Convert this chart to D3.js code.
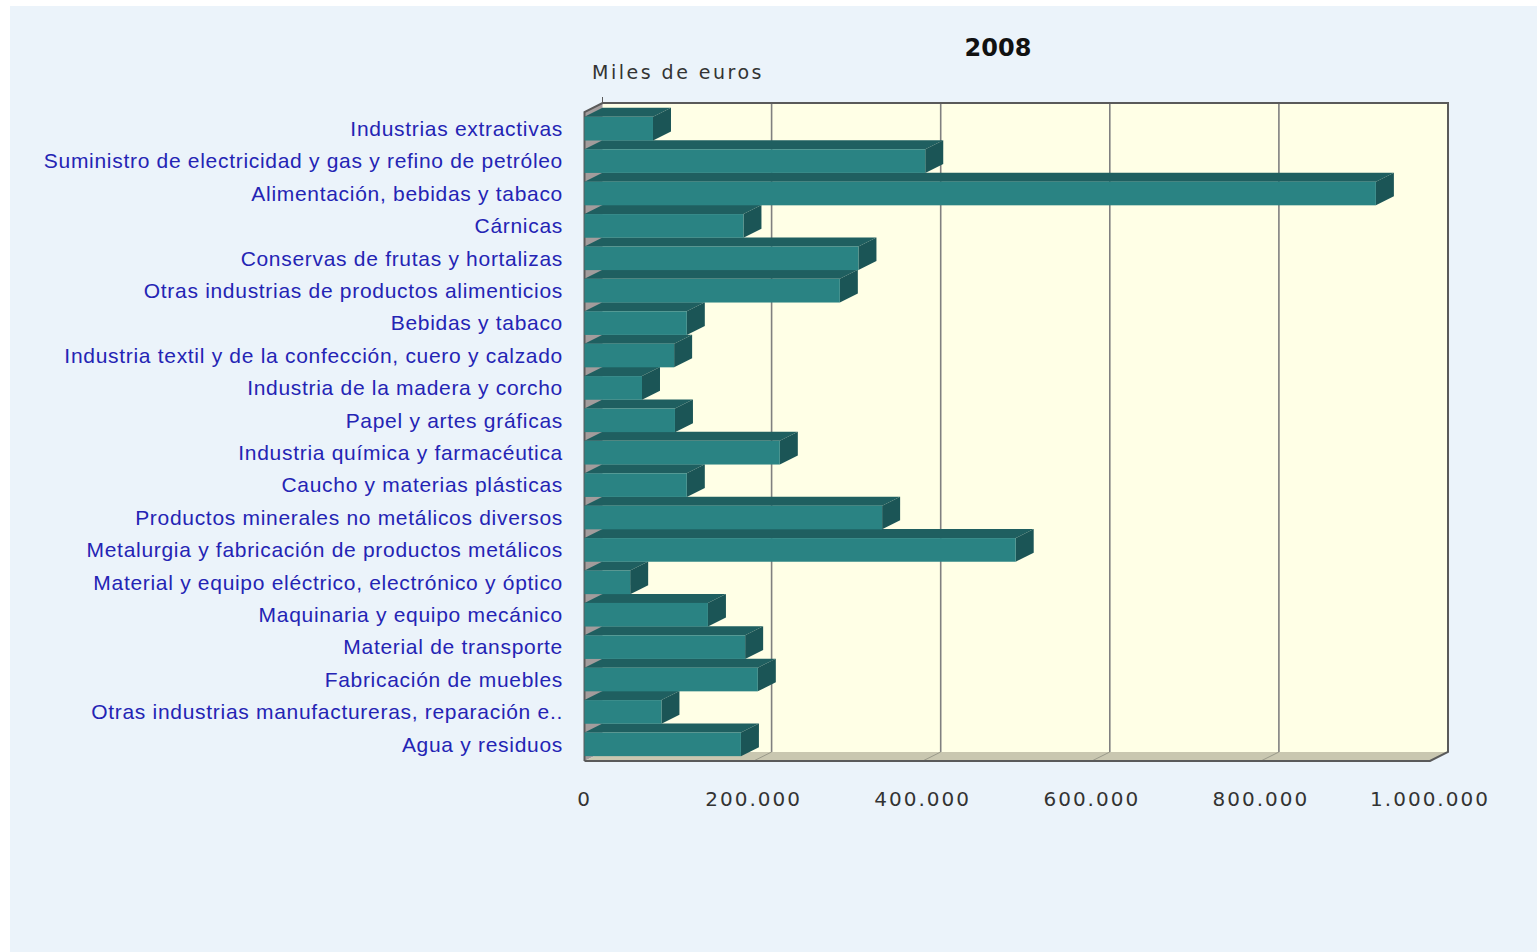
<!DOCTYPE html>
<html>
<head>
<meta charset="utf-8">
<script src="https://cdn.jsdelivr.net/npm/d3@7"></script>
<style>
  html, body { margin: 0; padding: 0; background: #ffffff; }
  svg { display: block; }
</style>
</head>
<body>
<div class="graph"></div>
<script>
// data (miles de euros)
const categories = [
  "Industrias extractivas",
  "Suministro de electricidad y gas y refino de petróleo",
  "Alimentación, bebidas y tabaco",
  "Cárnicas",
  "Conservas de frutas y hortalizas",
  "Otras industrias de productos alimenticios",
  "Bebidas y tabaco",
  "Industria textil y de la confección, cuero y calzado",
  "Industria de la madera y corcho",
  "Papel y artes gráficas",
  "Industria química y farmacéutica",
  "Caucho y materias plásticas",
  "Productos minerales no metálicos diversos",
  "Metalurgia y fabricación de productos metálicos",
  "Material y equipo eléctrico, electrónico y óptico",
  "Maquinaria y equipo mecánico",
  "Material de transporte",
  "Fabricación de muebles",
  "Otras industrias manufactureras, reparación e..",
  "Agua y residuos"
];
const values = [81000, 403000, 936000, 188000, 324000, 302000, 121000, 106000, 68000, 107000,
  231000, 121000, 352000, 510000, 54000, 146000, 190000, 205000, 91000, 185000];
const xTicks = [0, 200000, 400000, 600000, 800000, 1000000];
const title = "2008";
const unitLabel = "Miles de euros";

const W = 1537, H = 952;
const dx = 18, dy = 9; // 3d depth

const svg = d3.select(".graph").append("svg")
  .attr("width", W)
  .attr("height", H);

// panel
svg.append("rect")
  .attr("x", 10).attr("y", 6)
  .attr("width", W - 10).attr("height", H - 6)
  .attr("fill", "#ebf3fa");

const x = d3.scaleLinear()
  .domain([0, 1000000])
  .range([584.5, 1430]);

const y = d3.scaleBand()
  .domain(categories)
  .range([112, 761])
  .paddingInner(0.27)
  .paddingOuter(0.15);

const x0 = x(0), x1 = x(1000000);
const yTop = 112, yBot = 761;
const fmt = d3.format(",.0f");
const esNum = v => fmt(v).replace(/,/g, ".");

// back wall
svg.append("rect")
  .attr("x", x0 + dx).attr("y", yTop - dy)
  .attr("width", x1 - x0).attr("height", yBot - yTop)
  .attr("fill", "#ffffe6");

// left wall
svg.append("polygon")
  .attr("points", [[x0, yTop], [x0 + dx, yTop - dy], [x0 + dx, yBot - dy], [x0, yBot]].join(" "))
  .attr("fill", "#a39c9c");

// floor
svg.append("polygon")
  .attr("points", [[x0, yBot], [x0 + dx, yBot - dy], [x1 + dx, yBot - dy], [x1, yBot]].join(" "))
  .attr("fill", "#c9c7b0");

// grid lines on back wall and floor
const grid = svg.append("g");
grid.selectAll(".gl")
  .data(xTicks.slice(1, -1))
  .enter().append("line")
  .attr("x1", d => x(d) + dx).attr("x2", d => x(d) + dx)
  .attr("y1", yTop - dy).attr("y2", yBot - dy)
  .attr("stroke", "#808080")
  .attr("stroke-width", 1.6);
grid.selectAll(".gf")
  .data(xTicks.slice(1, -1))
  .enter().append("line")
  .attr("x1", d => x(d) + dx).attr("x2", d => x(d))
  .attr("y1", yBot - dy).attr("y2", yBot)
  .attr("stroke", "#9a9a8a")
  .attr("stroke-width", 1);

// frame
const frame = svg.append("g")
  .attr("fill", "none")
  .attr("stroke", "#5a5a5a")
  .attr("stroke-width", 2);
frame.append("polyline")
  .attr("points", [[x0, yBot], [x0, yTop], [x0 + dx, yTop - dy], [x1 + dx, yTop - dy], [x1 + dx, yBot - dy], [x1, yBot], [x0, yBot]].join(" "));
frame.append("line")
  .attr("x1", x0 + dx).attr("x2", x0 + dx)
  .attr("y1", yTop - dy - 6).attr("y2", yTop - dy)
  .attr("stroke-width", 1);

// bars, drawn from the bottom up so each front face sits over the next top face
const bars = svg.append("g");
const rows = categories.map((c, i) => ({ cat: c, val: values[i] })).reverse();
const bw = y.bandwidth();

bars.selectAll(".bar")
  .data(rows)
  .enter().append("g")
  .attr("class", "bar")
  .each(function (d) {
    const g = d3.select(this);
    const yy = y(d.cat), xv = x(d.val);
    g.append("polygon")
      .attr("points", [[x0, yy], [x0 + dx, yy - dy], [xv + dx, yy - dy], [xv, yy]].join(" "))
      .attr("fill", "#1f5f60");
    g.append("polygon")
      .attr("points", [[xv, yy], [xv + dx, yy - dy], [xv + dx, yy + bw - dy], [xv, yy + bw]].join(" "))
      .attr("fill", "#1b5556");
    g.append("rect")
      .attr("x", x0)
      .attr("y", yy)
      .attr("width", xv - x0)
      .attr("height", bw)
      .attr("fill", "#2a8383");
  });

// category labels
svg.append("g").selectAll("text")
  .data(categories)
  .enter().append("text")
  .attr("x", 563)
  .attr("y", d => y(d) + bw / 2)
  .attr("dy", "0.35em")
  .attr("text-anchor", "end")
  .attr("fill", "#2424b4")
  .style("font-family", "'Liberation Sans', Arial, sans-serif")
  .style("font-size", "21px")
  .style("letter-spacing", "0.7px")
  .text(d => d);

// x tick labels
svg.append("g").selectAll("text")
  .data(xTicks)
  .enter().append("text")
  .attr("x", d => x(d))
  .attr("y", 806)
  .attr("text-anchor", "middle")
  .attr("fill", "#333333")
  .style("font-family", "'DejaVu Sans', Verdana, sans-serif")
  .style("font-size", "20px")
  .style("letter-spacing", "2px")
  .text(d => esNum(d));

// title
svg.append("text")
  .attr("x", 998)
  .attr("y", 56)
  .attr("text-anchor", "middle")
  .attr("fill", "#111111")
  .style("font-family", "'DejaVu Sans', Verdana, sans-serif")
  .style("font-size", "24px")
  .style("font-weight", "bold")
  .text(title);

svg.append("text")
  .attr("x", 592)
  .attr("y", 79)
  .attr("fill", "#333333")
  .style("font-family", "'DejaVu Sans', Verdana, sans-serif")
  .style("font-size", "19px")
  .style("letter-spacing", "2.5px")
  .text(unitLabel);
</script>
</body>
</html>
